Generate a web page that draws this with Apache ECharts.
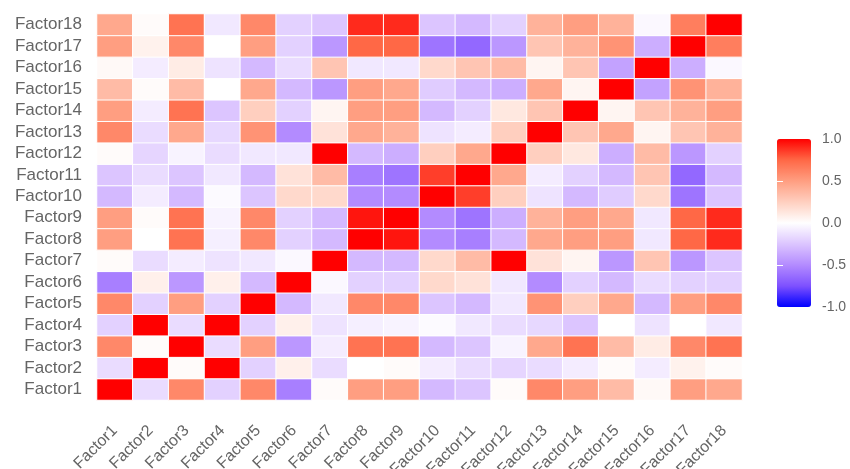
<!DOCTYPE html>
<html>
<head>
<meta charset="utf-8">
<script src="https://cdn.jsdelivr.net/npm/echarts@6/dist/echarts.min.js"></script>
<style>
html,body{margin:0;padding:0;background:#fff;}
#chart{width:850px;height:469px;}
</style>
</head>
<body>
<div id="chart"></div>
<script>
// Factor names (x and y categories)
var factors = ['Factor1','Factor2','Factor3','Factor4','Factor5','Factor6','Factor7','Factor8','Factor9',
  'Factor10','Factor11','Factor12','Factor13','Factor14','Factor15','Factor16','Factor17','Factor18'];

// Correlation rows, Factor1 .. Factor18, each listing columns Factor1 .. Factor18
var corrRows = [
  [1, -0.15, 0.6, -0.2, 0.6, -0.55, 0.02, 0.5, 0.5, -0.3, -0.25, 0.02, 0.6, 0.5, 0.35, 0.03, 0.5, 0.45],
  [-0.15, 1, 0.02, 1, -0.2, 0.08, -0.15, 0, 0.02, -0.08, -0.15, -0.18, -0.15, -0.08, 0.02, -0.08, 0.07, 0.02],
  [0.6, 0.02, 1, -0.15, 0.5, -0.45, -0.08, 0.7, 0.7, -0.3, -0.25, -0.05, 0.45, 0.7, 0.35, 0.1, 0.6, 0.7],
  [-0.2, 1, -0.15, 1, -0.2, 0.08, -0.12, -0.07, -0.05, -0.02, -0.1, -0.15, -0.17, -0.25, 0, -0.12, 0, -0.1],
  [0.6, -0.2, 0.5, -0.2, 1, -0.3, -0.1, 0.6, 0.6, -0.25, -0.3, -0.1, 0.55, 0.25, 0.45, -0.3, 0.5, 0.6],
  [-0.55, 0.08, -0.45, 0.08, -0.3, 1, -0.03, -0.2, -0.2, 0.2, 0.15, -0.1, -0.5, -0.2, -0.3, -0.15, -0.2, -0.2],
  [0.02, -0.15, -0.08, -0.12, -0.1, -0.03, 1, -0.3, -0.3, 0.2, 0.35, 1, 0.15, 0.05, -0.45, 0.3, -0.45, -0.25],
  [0.5, 0, 0.7, -0.07, 0.6, -0.2, -0.3, 1, 0.95, -0.5, -0.55, -0.3, 0.45, 0.5, 0.5, -0.1, 0.75, 0.9],
  [0.5, 0.02, 0.7, -0.05, 0.6, -0.2, -0.3, 0.95, 1, -0.5, -0.6, -0.35, 0.4, 0.5, 0.45, -0.1, 0.75, 0.9],
  [-0.3, -0.08, -0.3, -0.02, -0.25, 0.2, 0.2, -0.5, -0.5, 1, 0.85, 0.25, -0.12, -0.3, -0.22, 0.2, -0.6, -0.25],
  [-0.25, -0.15, -0.25, -0.1, -0.3, 0.15, 0.35, -0.55, -0.6, 0.85, 1, 0.45, -0.08, -0.2, -0.3, 0.3, -0.65, -0.3],
  [0.02, -0.18, -0.05, -0.15, -0.1, -0.1, 1, -0.3, -0.35, 0.25, 0.45, 1, 0.25, 0.12, -0.35, 0.35, -0.45, -0.2],
  [0.6, -0.15, 0.45, -0.17, 0.55, -0.5, 0.15, 0.45, 0.4, -0.12, -0.08, 0.25, 1, 0.3, 0.45, 0.05, 0.3, 0.4],
  [0.5, -0.08, 0.7, -0.25, 0.25, -0.2, 0.05, 0.5, 0.5, -0.3, -0.2, 0.12, 0.3, 1, 0.05, 0.3, 0.4, 0.5],
  [0.35, 0.02, 0.35, 0, 0.45, -0.3, -0.45, 0.5, 0.45, -0.22, -0.3, -0.35, 0.45, 0.05, 1, -0.4, 0.55, 0.4],
  [0.03, -0.08, 0.1, -0.12, -0.3, -0.15, 0.3, -0.1, -0.1, 0.2, 0.3, 0.35, 0.05, 0.3, -0.4, 1, -0.35, -0.03],
  [0.5, 0.07, 0.6, 0, 0.5, -0.2, -0.45, 0.75, 0.75, -0.6, -0.65, -0.45, 0.3, 0.4, 0.55, -0.35, 1, 0.65],
  [0.45, 0.02, 0.7, -0.1, 0.6, -0.2, -0.25, 0.9, 0.9, -0.25, -0.3, -0.2, 0.4, 0.5, 0.4, -0.03, 0.65, 1]
];

// Colour bar breaks
var legendBreaks = [-1, -0.5, 0, 0.5, 1];
var legendTickMarks = [-0.5, 0.5];

var cells = [];
for (var r = 0; r < corrRows.length; r++) {
  for (var c = 0; c < corrRows[r].length; c++) {
    cells.push([c, r, corrRows[r][c]]);
  }
}

var textColor = '#656565';
var fontFam = '"Liberation Sans", Arial, sans-serif';

var chart = echarts.init(document.getElementById('chart'), null, {renderer: 'canvas'});
chart.setOption({
  backgroundColor: '#ffffff',
  animation: false,
  grid: [
    {left: 97, right: 108, top: 14, bottom: 69, containLabel: false, outerBoundsMode: 'none'},
    {left: 777, top: 139, width: 34, height: 168, containLabel: false, outerBoundsMode: 'none'}
  ],
  xAxis: [
    {
      type: 'category', data: factors, gridIndex: 0,
      axisLine: {show: false}, axisTick: {show: false}, splitLine: {show: false},
      axisLabel: {rotate: 45, margin: 28, color: textColor, fontSize: 16, fontFamily: fontFam, interval: 0}
    },
    {type: 'value', gridIndex: 1, show: false, min: 0, max: 1}
  ],
  yAxis: [
    {
      type: 'category', data: factors, gridIndex: 0,
      axisLine: {show: false}, axisTick: {show: false}, splitLine: {show: false},
      axisLabel: {margin: 15, color: textColor, fontSize: 17, fontFamily: fontFam, interval: 0}
    },
    {
      type: 'value', gridIndex: 1, min: -1, max: 1, interval: 0.5, position: 'right', z: 10,
      axisLine: {show: false}, splitLine: {show: false},
      axisTick: {show: true, inside: true, length: 6, lineStyle: {color: '#ffffff', width: 1}, customValues: legendTickMarks},
      axisLabel: {margin: 11, color: textColor, fontSize: 14, fontFamily: fontFam, customValues: legendBreaks,
        formatter: function (v) { return Number(v).toFixed(1); }}
    },
    {
      type: 'value', gridIndex: 1, min: -1, max: 1, interval: 0.5, position: 'left', z: 10,
      axisLine: {show: false}, splitLine: {show: false}, axisLabel: {show: false},
      axisTick: {show: true, inside: true, length: 6, lineStyle: {color: '#ffffff', width: 1}, customValues: legendTickMarks}
    }
  ],
  visualMap: {
    type: 'continuous', min: -1, max: 1, seriesIndex: 0, calculable: false,
    orient: 'vertical', left: 777, top: 139, itemWidth: 34, itemHeight: 168, padding: 0,
    showLabel: false, text: null,
    inRange: {color: ['#0000FF', '#7E51FF', '#B38BFF', '#DCC5FF', '#FFFFFF', '#FFCFBF', '#FF9E81', '#FF6846', '#FF0000']}
  },
  series: [{
    type: 'heatmap', xAxisIndex: 0, yAxisIndex: 0, data: cells,
    itemStyle: {borderColor: '#ffffff', borderWidth: 1},
    emphasis: {disabled: true}
  }]
});
</script>
</body>
</html>
